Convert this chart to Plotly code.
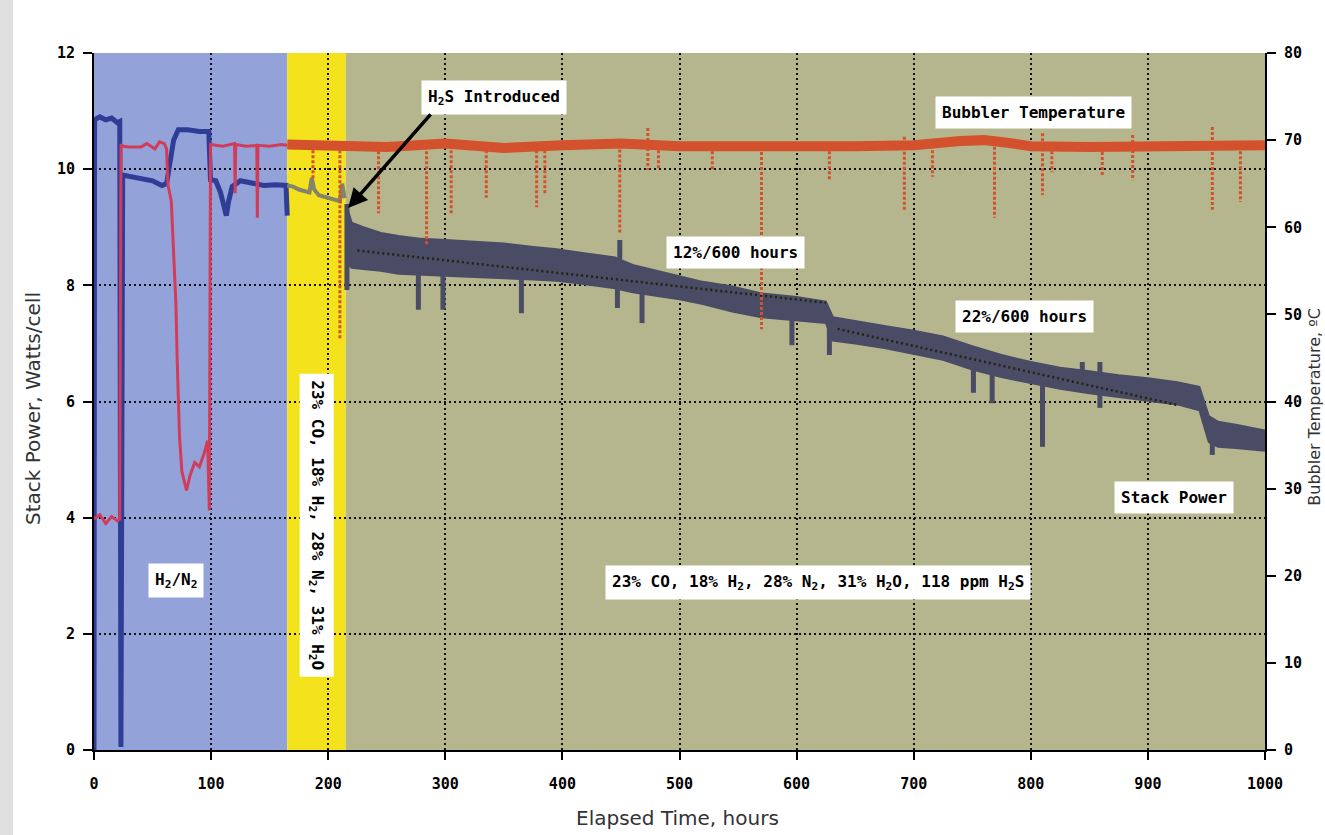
import plotly.graph_objects as go

# ---------------- data ----------------
# test phases (hours)
phase_start = [0, 165, 215]
phase_end = [165, 215, 1000]
phase_colors = ["#93a3d9", "#f4e31c", "#b6b68e"]

# Stack power, W/cell - H2/N2 phase
p1_t = [0, 0.5, 5, 10, 15, 20, 22, 23, 24.5, 30, 40, 50, 58, 62, 64, 68, 72, 80, 90, 98, 99.5,
        104, 108, 111, 113, 115, 118, 125, 135, 145, 155, 164, 165]
p1_v = [0, 10.85, 10.9, 10.85, 10.88, 10.8, 10.82, 0.05, 9.9, 9.88, 9.85, 9.8, 9.72, 9.75, 10.0,
        10.5, 10.68, 10.68, 10.65, 10.65, 9.82, 9.8, 9.6, 9.3, 9.2, 9.45, 9.7, 9.8, 9.75, 9.72,
        9.73, 9.72, 9.2]

# Stack power - syngas phase (no H2S)
p2_t = [165, 170, 175, 180, 184, 186, 188, 192, 198, 205, 210, 212, 214]
p2_v = [9.72, 9.7, 9.65, 9.62, 9.6, 9.85, 9.65, 9.55, 9.52, 9.48, 9.45, 9.75, 9.5]

# Stack power - syngas + H2S phase (noisy band: upper / lower edge)
p3_t = [216, 220, 230, 245, 260, 280, 300, 325, 350, 375, 395, 420, 445, 460, 480, 500, 520,
        545, 570, 600, 625, 631, 650, 675, 700, 725, 750, 775, 800, 825, 850, 875, 900, 925,
        944, 952, 960, 975, 1000]
p3_hi = [9.35, 9.08, 9.0, 8.9, 8.85, 8.8, 8.78, 8.75, 8.72, 8.66, 8.62, 8.55, 8.48, 8.35, 8.25,
         8.16, 8.06, 7.98, 7.86, 7.8, 7.72, 7.45, 7.38, 7.3, 7.22, 7.12, 6.95, 6.8, 6.68, 6.58,
         6.52, 6.45, 6.4, 6.33, 6.25, 5.75, 5.65, 5.6, 5.5]
p3_lo = [8.4, 8.3, 8.28, 8.25, 8.2, 8.18, 8.16, 8.14, 8.12, 8.1, 8.08, 8.02, 7.95, 7.88, 7.82,
         7.76, 7.68, 7.55, 7.45, 7.4, 7.35, 7.05, 7.0, 6.92, 6.82, 6.72, 6.55, 6.42, 6.32, 6.22,
         6.14, 6.08, 6.02, 5.95, 5.85, 5.3, 5.22, 5.2, 5.15]

# power excursions (hour, from, to)
ps_t = [216, 277, 298, 365, 447, 449, 468, 596, 628, 751, 767, 810, 844, 859, 859, 955]
ps_a = [9.4, 8.2, 8.2, 8.15, 8.0, 8.45, 7.9, 7.5, 7.4, 6.6, 6.5, 6.3, 6.5, 6.2, 6.45, 5.4]
ps_b = [7.92, 7.58, 7.58, 7.52, 7.61, 8.78, 7.35, 6.97, 6.8, 6.15, 5.97, 5.22, 6.68, 5.89, 6.68, 5.08]

# degradation trend lines
tr1_t = [225, 625]
tr1_v = [8.6, 7.7]
tr2_t = [635, 925]
tr2_v = [7.25, 5.94]

# Bubbler temperature, deg C - H2/N2 phase
b1_t = [0, 5, 10, 15, 20, 22, 23, 25, 30, 40, 45, 52, 56, 60, 62, 63, 66, 67, 69, 70, 71, 72, 73,
        75, 79, 82, 86, 90, 94, 97, 98.5, 99.5, 110, 120, 120.5, 121, 130, 139, 139.5, 140, 150,
        160, 165]
b1_v = [26.5, 27, 26, 26.8, 26.3, 26.5, 69.5, 69.3, 69.2, 69.2, 69.6, 69.0, 69.8, 69.6, 69, 65,
        63, 60, 55, 51, 45, 40, 36, 32, 29.8, 31.5, 33, 32.5, 34, 35.5, 27.5, 69.5, 69.3, 69.6,
        63.9, 69.5, 69.3, 69.4, 61.1, 69.4, 69.3, 69.5, 69.4]

# Bubbler temperature - syngas phases (base level)
b2_t = [165, 200, 215, 250, 300, 350, 400, 450, 500, 550, 600, 650, 700, 740, 760, 780, 800,
        850, 900, 950, 1000]
b2_v = [69.5, 69.4, 69.3, 69.2, 69.6, 69.1, 69.4, 69.6, 69.3, 69.2, 69.3, 69.3, 69.4, 69.9, 70.0,
        69.7, 69.3, 69.2, 69.3, 69.3, 69.4]

# bubbler excursions (hour, top, bottom)
bs_t = [187, 210, 243, 284, 305, 335, 378, 385, 449, 473, 482, 528, 570, 628, 692, 716, 769,
        810, 818, 861, 887, 955, 979]
bs_top = [69.4, 69.4, 69.3, 69.3, 69.4, 69.4, 69.4, 69.4, 69.5, 71.4, 69.4, 69.3, 69.2, 69.3,
          70.4, 69.4, 69.8, 70.8, 69.3, 69.2, 70.6, 71.5, 69.3]
bs_bot = [65.4, 47.1, 61.6, 58.0, 61.4, 63.4, 62.3, 63.9, 59.3, 66.6, 66.6, 66.6, 48.3, 65.4,
          61.8, 65.8, 61.1, 63.7, 66.3, 66.0, 65.4, 62.0, 62.9]

x_ticks = [0, 100, 200, 300, 400, 500, 600, 700, 800, 900, 1000]
y_ticks = [0, 2, 4, 6, 8, 10, 12]
y2_ticks = [0, 10, 20, 30, 40, 50, 60, 70, 80]


def segments(t, a, b):
    xs, ys = [], []
    for ti, ai, bi in zip(t, a, b):
        xs += [ti, ti, None]
        ys += [ai, bi, None]
    return xs, ys


fig = go.Figure()

BAND = "#4a4c66"
# band of stack power (fill between lower and upper edge)
fig.add_trace(go.Scatter(x=p3_t, y=p3_lo, mode="lines", line=dict(color=BAND, width=2),
                         hoverinfo="skip", showlegend=False))
fig.add_trace(go.Scatter(x=p3_t, y=p3_hi, mode="lines", line=dict(color=BAND, width=2),
                         fill="tonexty", fillcolor=BAND, showlegend=False))
sx, sy = segments(ps_t, ps_a, ps_b)
fig.add_trace(go.Scatter(x=sx, y=sy, mode="lines", line=dict(color=BAND, width=5),
                         showlegend=False))
fig.add_trace(go.Scatter(x=tr1_t, y=tr1_v, mode="lines",
                         line=dict(color="#23230f", width=2.5, dash="2px,3px"), showlegend=False))
fig.add_trace(go.Scatter(x=tr2_t, y=tr2_v, mode="lines",
                         line=dict(color="#23230f", width=2.5, dash="2px,3px"), showlegend=False))

fig.add_trace(go.Scatter(x=p1_t, y=p1_v, mode="lines", line=dict(color="#2f3d96", width=5),
                         showlegend=False))
fig.add_trace(go.Scatter(x=p2_t, y=p2_v, mode="lines", line=dict(color="#84846a", width=4),
                         showlegend=False))

# bubbler temperature (right axis)
fig.add_trace(go.Scatter(x=b1_t, y=b1_v, mode="lines", line=dict(color="#d23c5a", width=3),
                         yaxis="y2", showlegend=False))
bx, by = segments(bs_t, bs_top, bs_bot)
fig.add_trace(go.Scatter(x=bx, y=by, mode="lines",
                         line=dict(color="#d4512d", width=3, dash="3px,2px"),
                         yaxis="y2", showlegend=False))
fig.add_trace(go.Scatter(x=b2_t, y=b2_v, mode="lines", line=dict(color="#d4512d", width=10),
                         yaxis="y2", showlegend=False))

# background phases
shapes = []
for s, e, c in zip(phase_start, phase_end, phase_colors):
    shapes.append(dict(type="rect", xref="x", yref="paper", x0=s, x1=e, y0=0, y1=1,
                       fillcolor=c, line=dict(width=0), layer="below"))
# grey strip at page left
shapes.append(dict(type="rect", xref="paper", yref="paper", x0=-0.0803, x1=-0.0692,
                   y0=-0.13, y1=1.08, fillcolor="#e0e0e0", line=dict(width=0), layer="below"))

box_font = dict(family="DejaVu Sans Mono", size=16, color="#000", weight="bold")


def box(x, y, text, angle=0):
    return dict(x=x, y=y, xref="x", yref="y", text=text, showarrow=False, textangle=angle,
                bgcolor="white", borderpad=6, font=box_font, xanchor="center", yanchor="middle")


title_font = dict(family="DejaVu Sans", size=20, color="#333")
annotations = [
    box(341.6, 11.23, "H<sub>2</sub>S Introduced"),
    box(802.7, 10.97, "Bubbler Temperature"),
    box(547.4, 8.57, "12%/600 hours"),
    box(795, 7.46, "22%/600 hours"),
    box(922.3, 4.34, "Stack Power"),
    box(618.3, 2.89, "23% CO, 18% H<sub>2</sub>, 28% N<sub>2</sub>, 31% H<sub>2</sub>O, 118 ppm H<sub>2</sub>S"),
    box(70, 2.91, "H<sub>2</sub>/N<sub>2</sub>"),
    box(190.4, 3.87, "23% CO, 18% H<sub>2</sub>, 28% N<sub>2</sub>, 31% H<sub>2</sub>O", angle=90),
    dict(x=217, y=9.33, xref="x", yref="y", ax=288.6, ay=10.97, axref="x", ayref="y", text="",
         showarrow=True, arrowhead=2, arrowsize=1.1, arrowwidth=3.5, arrowcolor="#000"),
    dict(x=-0.0521, y=0.4907, xref="paper", yref="paper", text="Stack Power, Watts/cell",
         textangle=-90, showarrow=False, font=title_font, xanchor="center", yanchor="middle"),
    dict(x=0.4987, y=-0.0976, xref="paper", yref="paper", text="Elapsed Time, hours",
         showarrow=False, font=title_font, xanchor="center", yanchor="middle"),
    dict(x=1.0415, y=0.492, xref="paper", yref="paper", text="Bubbler Temperature, ºC",
         textangle=-90, showarrow=False, xanchor="center", yanchor="middle",
         font=dict(family="DejaVu Sans", size=16, color="#333")),
]

tick_font = dict(family="DejaVu Sans Mono", size=15, color="#000", weight="bold")

fig.update_layout(
    width=1325, height=835,
    margin=dict(l=94, r=60, t=53, b=85),
    paper_bgcolor="white", plot_bgcolor="white",
    shapes=shapes, annotations=annotations, showlegend=False,
    xaxis=dict(range=[0, 1000], tickvals=x_ticks, ticks="outside", ticklen=8, tickwidth=2,
               tickcolor="#000", showline=True, linecolor="#000", linewidth=2,
               showgrid=True, gridcolor="#111", gridwidth=2, griddash="2px,3px",
               zeroline=False, tickfont=tick_font, ticklabelstandoff=11),
    yaxis=dict(range=[0, 12], tickvals=y_ticks, ticks="outside", ticklen=9, tickwidth=2,
               tickcolor="#000", showline=True, linecolor="#000", linewidth=2,
               showgrid=True, gridcolor="#111", gridwidth=2, griddash="2px,3px",
               zeroline=False, tickfont=tick_font, ticklabelstandoff=5),
    yaxis2=dict(range=[0, 80], tickvals=y2_ticks, overlaying="y", side="right", ticks="outside",
                ticklen=9, tickwidth=2, tickcolor="#000", showline=True, linecolor="#000",
                linewidth=2, showgrid=False, zeroline=False, tickfont=tick_font,
                ticklabelstandoff=5),
)

fig.write_html("out.html")
